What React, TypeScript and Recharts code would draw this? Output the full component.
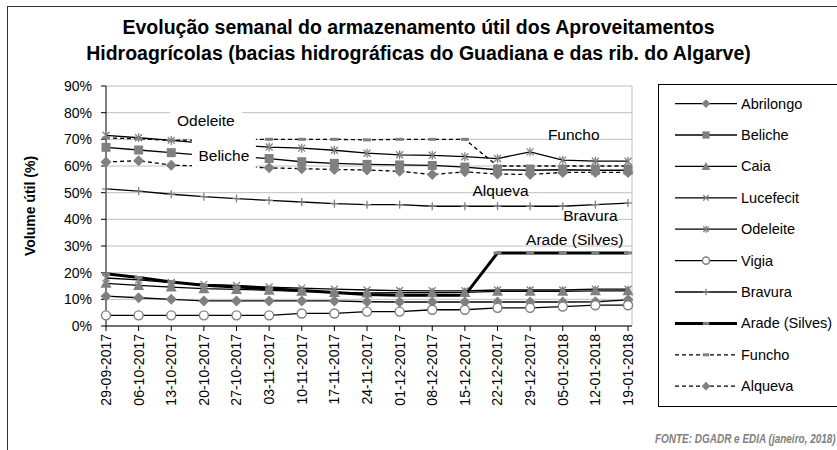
import { LineChart, Line, XAxis, YAxis, CartesianGrid, ReferenceDot } from "recharts";

const FONT = "'Liberation Sans', Arial, sans-serif";
const GRAY = "#808080";

const weeks = [
  "29-09-2017", "06-10-2017", "13-10-2017", "20-10-2017", "27-10-2017",
  "03-11-2017", "10-11-2017", "17-11-2017", "24-11-2017", "01-12-2017",
  "08-12-2017", "15-12-2017", "22-12-2017", "29-12-2017", "05-01-2018",
  "12-01-2018", "19-01-2018",
];

const yTicks = [0, 10, 20, 30, 40, 50, 60, 70, 80, 90];

const abrilongo = [11.2, 10.6, 10, 9.4, 9.4, 9.4, 9.4, 9.4, 9.1, 9, 9, 9, 9, 9, 9, 9.1, 9.8];
const beliche = [67, 66, 65, 64, 63.5, 62.8, 61.6, 61, 60.6, 60.4, 60.2, 59.6, 58.6, 58.4, 58.6, 58.4, 58.4];
const caia = [16, 15.2, 14.6, 14, 13.7, 13.4, 13, 12.6, 12.4, 12.5, 12.5, 12.6, 13, 13, 13, 13.2, 13.2];
const lucefecit = [18, 17.3, 16.3, 15.6, 15.2, 14.6, 14.2, 13.8, 13.5, 13.3, 13.2, 13.2, 13.5, 13.5, 13.5, 13.8, 13.8];
const odeleite = [71.5, 70.6, 69.6, 68.6, 67.8, 67.1, 66.7, 65.9, 64.8, 64.2, 64, 63.5, 62.8, 65.3, 62.2, 61.8, 61.8];
const vigia = [4, 4, 4, 4, 4, 4, 4.7, 4.7, 5.4, 5.4, 6.1, 6.1, 6.8, 6.8, 7.3, 7.8, 7.8];
const bravura = [51.4, 50.6, 49.4, 48.5, 47.8, 47.1, 46.5, 45.9, 45.5, 45.5, 44.9, 44.9, 44.9, 44.9, 44.9, 45.5, 46.1];
const arade = [19.6, 18.2, 16.5, 15.3, 14.6, 14, 13.3, 12.6, 11.8, 11.5, 11.5, 11.5, 27.4, 27.4, 27.4, 27.4, 27.4];
const funcho = [70.5, 70.2, 69.6, 69.8, 69.9, 70, 70, 70, 69.8, 70, 70, 70, 60, 60, 60, 60, 60];
const alqueva = [61.5, 62, 60.3, 60, 59.8, 59.3, 59, 58.7, 58.5, 58, 56.8, 57.8, 57, 56.8, 57.6, 57.6, 57.6];

type MarkerKind = "diamond" | "square" | "triangle" | "x" | "star" | "circle" | "plus" | "dash";

const series: { name: string; values: number[]; marker: MarkerKind; dashed?: boolean; width?: number }[] = [
  { name: "Abrilongo", values: abrilongo, marker: "diamond" },
  { name: "Beliche", values: beliche, marker: "square" },
  { name: "Caia", values: caia, marker: "triangle" },
  { name: "Lucefecit", values: lucefecit, marker: "x" },
  { name: "Odeleite", values: odeleite, marker: "star" },
  { name: "Vigia", values: vigia, marker: "circle" },
  { name: "Bravura", values: bravura, marker: "plus" },
  { name: "Arade (Silves)", values: arade, marker: "dash", width: 3 },
  { name: "Funcho", values: funcho, marker: "dash", dashed: true },
  { name: "Alqueva", values: alqueva, marker: "diamond", dashed: true },
];

// text annotations placed next to the lines (boxed ones hide what is under them)
const notes = [
  { text: "Odeleite", week: 3, value: 77.2, dx: 2, box: [-36, -14, 72, 27] },
  { text: "Beliche", week: 3, value: 64.1, dx: 20, box: [-32, -20, 64, 38] },
  { text: "Funcho", week: 14, value: 72, dx: 11 },
  { text: "Alqueva", week: 12, value: 51, dx: 3 },
  { text: "Bravura", week: 15, value: 41.6, dx: -5 },
  { text: "Arade (Silves)", week: 14, value: 32.6, dx: 12 },
];

const data = weeks.map((w, i) => {
  const row: Record<string, string | number> = { week: w };
  series.forEach((s) => (row[s.name] = s.values[i]));
  return row;
});

function Marker({ kind, cx, cy, s = 1 }: { kind: MarkerKind; cx: number; cy: number; s?: number }) {
  if (cx == null || cy == null) return null;
  const k = s;
  switch (kind) {
    case "diamond":
      return (
        <polygon
          points={`${cx},${cy - 5.5 * k} ${cx + 5.5 * k},${cy} ${cx},${cy + 5.5 * k} ${cx - 5.5 * k},${cy}`}
          fill={GRAY}
        />
      );
    case "square":
      return <rect x={cx - 4.5 * k} y={cy - 4.5 * k} width={9 * k} height={9 * k} fill={GRAY} />;
    case "triangle":
      return (
        <polygon
          points={`${cx},${cy - 5.5 * k} ${cx + 5.5 * k},${cy + 4.5 * k} ${cx - 5.5 * k},${cy + 4.5 * k}`}
          fill={GRAY}
        />
      );
    case "x":
      return (
        <g stroke={GRAY} strokeWidth={1.3}>
          <line x1={cx - 3.5 * k} y1={cy - 3.5 * k} x2={cx + 3.5 * k} y2={cy + 3.5 * k} />
          <line x1={cx - 3.5 * k} y1={cy + 3.5 * k} x2={cx + 3.5 * k} y2={cy - 3.5 * k} />
        </g>
      );
    case "star":
      return (
        <g stroke={GRAY} strokeWidth={1.3}>
          <line x1={cx - 3.5 * k} y1={cy - 3.5 * k} x2={cx + 3.5 * k} y2={cy + 3.5 * k} />
          <line x1={cx - 3.5 * k} y1={cy + 3.5 * k} x2={cx + 3.5 * k} y2={cy - 3.5 * k} />
          <line x1={cx} y1={cy - 4.5 * k} x2={cx} y2={cy + 4.5 * k} />
        </g>
      );
    case "circle":
      return <circle cx={cx} cy={cy} r={4.5 * k} fill="#fff" stroke={GRAY} strokeWidth={1.4} />;
    case "plus":
      return (
        <g stroke={GRAY} strokeWidth={1.3}>
          <line x1={cx - 4 * k} y1={cy} x2={cx + 4 * k} y2={cy} />
          <line x1={cx} y1={cy - 4 * k} x2={cx} y2={cy + 4 * k} />
        </g>
      );
    case "dash":
      return <rect x={cx - 4 * k} y={cy - 1.5} width={8 * k} height={3} fill={GRAY} />;
  }
  return null;
}

function WeekTick({ x, y, payload }: any) {
  return (
    <text
      x={x}
      y={y}
      transform={`rotate(-90, ${x}, ${y})`}
      textAnchor="end"
      dy="0.35em"
      fontSize={14}
      fill="#000"
      fontFamily={FONT}
    >
      {payload.value}
    </text>
  );
}

function Note({ cx, cy, text, dx, box }: any) {
  const x = cx + dx;
  return (
    <g>
      {box && <rect x={x + box[0]} y={cy + box[1]} width={box[2]} height={box[3]} fill="#fff" />}
      <text x={x} y={cy} textAnchor="middle" dy="0.36em" fontSize={15.5} fill="#000" fontFamily={FONT}>
        {text}
      </text>
    </g>
  );
}

export default function App() {
  return (
    <div style={{ position: "absolute", left: 0, top: 0, width: 837, height: 450, overflow: "hidden", background: "#fff", fontFamily: FONT }}>
      <div style={{ position: "absolute", left: 7, top: 6, width: 900, height: 500, border: "1.5px solid #333" }} />
      <div style={{ position: "absolute", left: 0, top: 14, width: 837, textAlign: "center", fontWeight: "bold", fontSize: 19.5, lineHeight: "26px" }}>
        Evolução semanal do armazenamento útil dos Aproveitamentos
        <br />
        Hidroagrícolas (bacias hidrográficas do Guadiana e das rib. do Algarve)
      </div>
      <LineChart width={837} height={450} data={data} margin={{ top: 86, right: 205, left: 46, bottom: 34 }} style={{ position: "absolute", left: 0, top: 0 }}>
        <CartesianGrid
          stroke="#c0c0c0"
          vertical={true}
          verticalCoordinatesGenerator={({ offset }: any) => [offset.left + offset.width]}
        />
        <XAxis
          dataKey="week"
          interval={0}
          height={90}
          tick={<WeekTick />}
          tickSize={5}
          tickMargin={3}
          tickLine={{ stroke: "#000" }}
          axisLine={{ stroke: "#000" }}
          padding={{ left: 0, right: 4 }}
        />
        <YAxis
          width={60}
          domain={[0, 90]}
          ticks={yTicks}
          tickFormatter={(v) => `${v}%`}
          tick={{ fontSize: 14, fill: "#000", fontFamily: FONT }}
          tickSize={5}
          tickMargin={9}
          tickLine={{ stroke: "#000" }}
          axisLine={{ stroke: "#000" }}
          label={{
            content: ({ viewBox }: any) => {
              const x = viewBox.x - 16;
              const y = viewBox.y + viewBox.height / 2;
              return (
                <text x={x} y={y} transform={`rotate(-90, ${x}, ${y})`} textAnchor="middle" dy="0.35em" fontSize={14} fontWeight="bold" fontFamily={FONT}>
                  Volume útil (%)
                </text>
              );
            },
          }}
        />
        {notes.filter((n) => !n.box).map((n) => (
          <ReferenceDot key={n.text} x={weeks[n.week]} y={n.value} r={0} shape={(p: any) => <Note {...p} text={n.text} dx={n.dx} />} />
        ))}
        {series.map((s) => (
          <Line
            key={s.name}
            dataKey={s.name}
            stroke="#000"
            strokeWidth={s.width ?? 1.3}
            strokeDasharray={s.dashed ? "4 3" : undefined}
            isAnimationActive={false}
            activeDot={false}
            dot={(p: any) => <Marker key={p.index} kind={s.marker} cx={p.cx} cy={p.cy} />}
          />
        ))}
        {notes.filter((n) => n.box).map((n) => (
          <ReferenceDot key={n.text} x={weeks[n.week]} y={n.value} r={0} shape={(p: any) => <Note {...p} text={n.text} dx={n.dx} box={n.box} />} />
        ))}
      </LineChart>
      <div style={{ position: "absolute", left: 658, top: 84, width: 200, height: 321, border: "1px solid #000", background: "#fff" }}>
        <svg width={200} height={321}>
          {series.map((s, i) => {
            const y = 18.6 + i * 31.4;
            return (
              <g key={s.name}>
                <line x1={16} x2={78} y1={y} y2={y} stroke="#000" strokeWidth={s.width ?? 1.3} strokeDasharray={s.dashed ? "4 3" : undefined} />
                <Marker kind={s.marker} cx={47} cy={y} s={0.8} />
                <text x={82} y={y} dy="0.35em" fontSize={14.5} fontFamily={FONT}>
                  {s.name}
                </text>
              </g>
            );
          })}
        </svg>
      </div>
      <div style={{ position: "absolute", left: 655, top: 432, whiteSpace: "nowrap", fontStyle: "italic", fontWeight: "bold", fontSize: 12, color: "#7f7f7f", transform: "scaleX(0.83)", transformOrigin: "left top" }}>
        FONTE: DGADR e EDIA (janeiro, 2018)
      </div>
    </div>
  );
}
